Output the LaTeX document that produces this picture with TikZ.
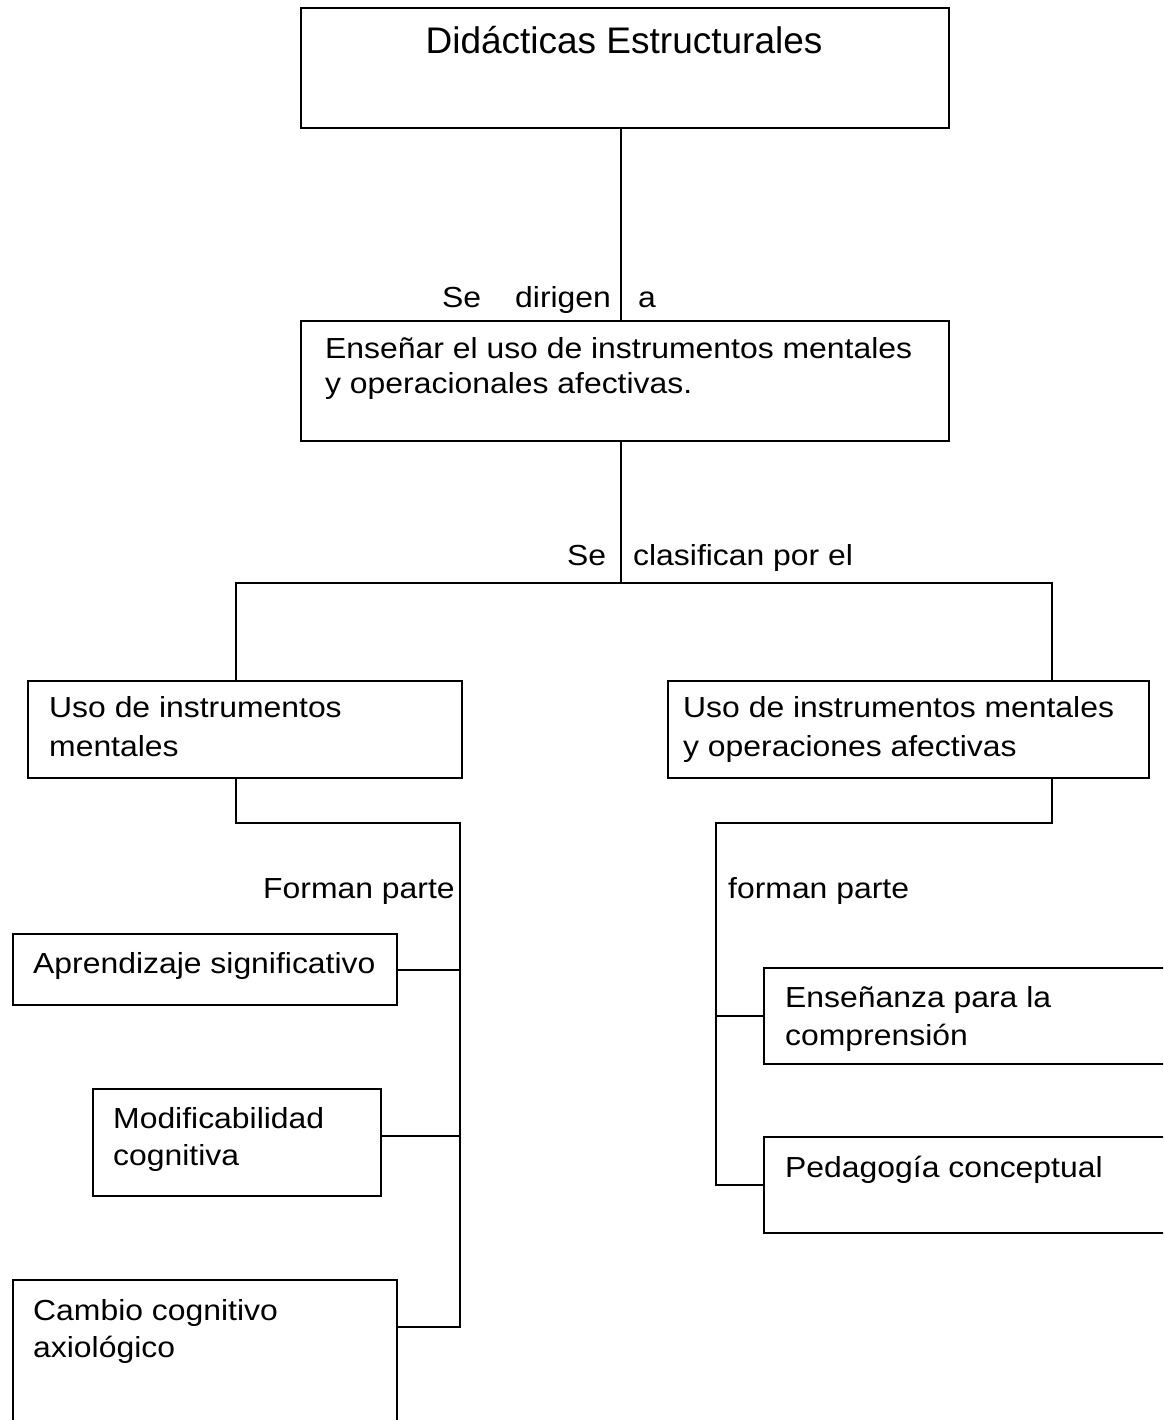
\documentclass[tikz,border=0pt]{standalone}
\usepackage{fontspec}
\setmainfont{Liberation Sans}
\usepackage{graphicx}
% body lines are set slightly wide
\newcommand\wline[1]{\scalebox{1.1}[1]{#1}}
\tikzset{
  box/.style={draw, line width=2pt, rectangle, inner sep=0pt, anchor=north west},
  txt/.style={inner sep=0pt, anchor=base west, font=\fontsize{29}{35}\selectfont},
  link/.style={line width=2pt},
}
\begin{document}
\begin{tikzpicture}[x=1pt,y=-1pt]
\useasboundingbox (0,0) rectangle (1163,1420);
\clip (0,0) rectangle (1163,1420);

% boxes
\node[box, minimum width=648pt, minimum height=120pt] (top) at (300,7) {};
\node[box, minimum width=648pt, minimum height=120pt] (dir) at (300,320) {};
\node[box, minimum width=434pt, minimum height=97pt] (left) at (27,680) {};
\node[box, minimum width=481pt, minimum height=97pt] (right) at (667,680) {};
\node[box, minimum width=384pt, minimum height=71pt] (apr) at (12,933) {};
\node[box, minimum width=288pt, minimum height=107pt] (mod) at (92,1088) {};
\node[box, minimum width=384pt, minimum height=200pt] (cam) at (12,1279) {};
\node[box, minimum width=450pt, minimum height=96pt] (ens) at (763,967) {};
\node[box, minimum width=450pt, minimum height=96pt] (ped) at (763,1136) {};

% texts
\node[inner sep=0pt, anchor=base, font=\fontsize{37}{44}\selectfont] (tTitle) at (624,54) {Didácticas Estructurales};
\node[txt] (tSe1) at (442,307) {\wline{Se}};
\node[txt] (tDir) at (515,307) {\wline{dirigen}};
\node[txt] (tA) at (638,307) {\wline{a}};
\node[txt] (tEn1) at (325,358) {\wline{Enseñar el uso de instrumentos mentales}};
\node[txt] (tEn2) at (325,393) {\wline{y operacionales afectivas.}};
\node[txt] (tSe2) at (567,565) {\wline{Se}};
\node[txt] (tCla) at (633,565) {\wline{clasifican por el}};
\node[txt] (tL1) at (49,717) {\wline{Uso de instrumentos}};
\node[txt] (tL2) at (49,756) {\wline{mentales}};
\node[txt] (tR1) at (683,717) {\wline{Uso de instrumentos mentales}};
\node[txt] (tR2) at (683,756) {\wline{y operaciones afectivas}};
\node[txt] (tFl) at (263,898) {\wline{Forman parte}};
\node[txt] (tFr) at (728,898) {\wline{forman parte}};
\node[txt] (tApr) at (33,973) {\wline{Aprendizaje significativo}};
\node[txt] (tMo1) at (113,1128) {\wline{Modificabilidad}};
\node[txt] (tMo2) at (113,1165) {\wline{cognitiva}};
\node[txt] (tCa1) at (33,1320) {\wline{Cambio cognitivo}};
\node[txt] (tCa2) at (33,1357) {\wline{axiológico}};
\node[txt] (tEs1) at (785,1007) {\wline{Enseñanza para la}};
\node[txt] (tEs2) at (785,1045) {\wline{comprensión}};
\node[txt] (tPed) at (785,1177) {\wline{Pedagogía conceptual}};

% junction points
\coordinate (cx) at (621,583);
\coordinate (bl) at (236,583);
\coordinate (br) at (1052,583);
\coordinate (lk) at (236,823);
\coordinate (lt) at (460,823);
\coordinate (mj) at (460,1136);
\coordinate (lb) at (460,1327);
\coordinate (rk) at (1052,823);
\coordinate (rt) at (716,823);

% connectors
\draw[link] (top.south -| cx) -- (dir.north -| cx);
\draw[link] (dir.south -| cx) -- (cx);
\draw[link] (left.north -| bl) -- (bl) -- (br) -- (right.north -| br);
\draw[link] (left.south -| lk) -- (lk) -- (lt) -- (lb) -- (lb -| cam.east);
\draw[link] (apr.east) -- (apr.east -| lt);
\draw[link] (mj -| mod.east) -- (mj);
\draw[link] (right.south -| rk) -- (rk) -- (rt) -- (ped.west -| rt) -- (ped.west);
\draw[link] (ens.west -| rt) -- (ens.west);
\end{tikzpicture}
\end{document}
